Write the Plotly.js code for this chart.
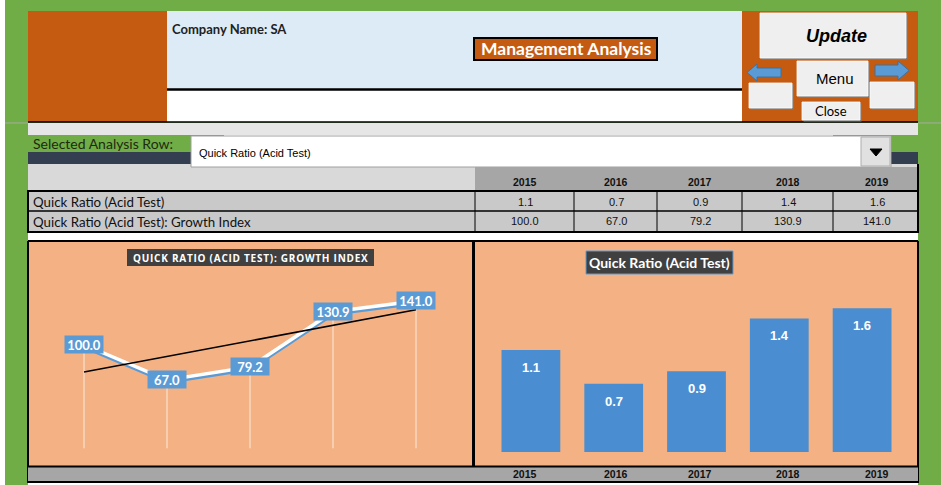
<!DOCTYPE html>
<html>
<head>
<meta charset="utf-8">
<script src="https://cdn.plot.ly/plotly-3.0.1.min.js"></script>
<style>html,body{margin:0;padding:0;background:#fff;}#chart{width:941px;height:485px;}</style>
</head>
<body>
<div id="chart"></div>
<script>
// ---------------- DATA ----------------
const years = ['2015', '2016', '2017', '2018', '2019'];
const quickRatio = [1.10, 0.737, 0.871, 1.440, 1.551];
const growthIndex = [100.0, 67.0, 79.2, 130.9, 141.0];
const rowLabels = ['Quick Ratio (Acid Test)', 'Quick Ratio (Acid Test): Growth Index'];
const companyName = 'SA';
const pageTitle = 'Management Analysis';
const selectorLabel = 'Selected Analysis Row:';
const selectedRow = 'Quick Ratio (Acid Test)';
const lineTitle = 'QUICK RATIO (ACID TEST): GROWTH INDEX';
const barTitle = 'Quick Ratio (Acid Test)';

// ---------------- LAYOUT HELPERS ----------------
const W = 941, H = 485;
const fx = x => x / W;
const fy = y => 1 - y / H;
const colCenters = [525, 616, 700, 788, 877];
const colEdges = [475, 574, 657, 742, 833, 918];

const shapes = [];
const ann = [];
function rect(x0, y0, x1, y1, fill, lc, lw) {
  shapes.push({type: 'rect', xref: 'paper', yref: 'paper', x0: fx(x0), x1: fx(x1), y0: fy(y1), y1: fy(y0),
    fillcolor: fill, line: {color: lc || 'rgba(0,0,0,0)', width: lw || 0}, layer: 'below'});
}
function line(x0, y0, x1, y1, color, w) {
  shapes.push({type: 'line', xref: 'paper', yref: 'paper', x0: fx(x0), x1: fx(x1), y0: fy(y0), y1: fy(y1),
    line: {color: color, width: w}, layer: 'below'});
}
function poly(pts, fill, lc) {
  const d = pts.map((p, i) => (i ? 'L' : 'M') + fx(p[0]) + ',' + fy(p[1])).join(' ') + ' Z';
  shapes.push({type: 'path', xref: 'paper', yref: 'paper', path: d, fillcolor: fill,
    line: {color: lc || fill, width: 1}, layer: 'below'});
}
function txt(x, y, text, size, o) {
  o = o || {};
  ann.push(Object.assign({xref: 'paper', yref: 'paper', x: fx(x), y: fy(y), text: text, showarrow: false,
    xanchor: o.xa || 'center', yanchor: 'middle',
    font: {family: o.family || 'Lato, sans-serif', size: size, color: o.color || '#111', weight: o.weight || 'normal', style: o.style || 'normal'}},
    o.extra || {}));
}
function button(x0, y0, x1, y1) {
  rect(x0 + 1.5, y0 + 1.5, x1 + 1.5, y1 + 1.5, '#7f7f7f');
  rect(x0, y0, x1, y1, '#efefef', '#ffffff', 0.8);
}

// page background
rect(0, 0, W, H, '#ffffff');
rect(5, 0, W, H, '#70ad47');
line(5, 123, W, 123, '#a8a8a8', 1);

// header
rect(28, 11, 167, 122, '#c55a11');
rect(167, 11, 742, 89, '#ddebf7');
rect(167, 90, 742, 122, '#ffffff');
line(167, 89.5, 742, 89.5, '#000', 2.5);
rect(742, 11, 918, 122, '#c55a11');
line(28, 122, 918, 122, '#000', 1.5);
rect(474, 38, 657, 60, '#c55a11', '#000', 2);

// buttons
button(760, 13, 906, 58);
button(797, 61, 868, 96);
button(749, 83, 792, 108);
button(870, 82, 914, 108);
button(802, 102, 860, 120);
poly([[747, 72.5], [757, 64], [757, 68], [781, 68], [781, 77], [757, 77], [757, 81]], '#5b9bd5', '#41719c');
poly([[909, 70.5], [898, 61], [898, 65], [875, 65], [875, 76], [898, 76], [898, 80]], '#5b9bd5', '#41719c');

// selector area
rect(28, 123, 918, 135, '#e7e6e6');
rect(28, 135, 224, 152, '#70ad47');
rect(224, 135, 833, 152, '#ffffff');
rect(833, 135, 918, 152, '#70ad47');
rect(28, 152, 918, 164, '#333f50');
rect(28, 164, 918, 191, '#d9d9d9');
rect(191, 136, 891, 167, '#ffffff', '#a0a0a0', 1);
rect(861, 137, 890, 166, '#e1e1e1', '#adadad', 1);
poly([[870, 149], [882, 149], [876, 156]], '#000000', '#000000');

// table
rect(475, 167, 918, 191, '#a6a6a6');
rect(28, 191, 918, 232, '#c9c9c9');
line(28, 191, 918, 191, '#000', 2);
line(28, 211, 918, 211, '#000', 1.5);
line(28, 232, 918, 232, '#000', 2);
line(28, 190, 28, 233, '#000', 2);
line(918, 164, 918, 233, '#000', 2);
colEdges.slice(0, 5).forEach(x => line(x, 191, x, 232, '#000', 1));

// charts area
rect(28, 233, 918, 485, '#ffffff');
rect(28, 241, 473, 466, '#f4b183');
rect(473, 241, 918, 466, '#f4b183');
line(28, 241, 918, 241, '#000', 2);
line(28, 241, 28, 483, '#000', 2);
line(918, 241, 918, 483, '#000', 2);
line(473.5, 241, 473.5, 466, '#000', 3);
rect(28, 467, 918, 481, '#a6a6a6');
line(28, 466.5, 918, 466.5, '#000', 2);
line(28, 482, 918, 482, '#000', 2);
rect(127, 249, 374, 266, '#404040');
rect(586, 251, 733, 274, '#404040', '#5b9bd5', 1);

// ---------------- TEXT ----------------
const arial = 'Liberation Sans, Arial, sans-serif';
txt(170, 29, 'Company Name: ' + companyName, 13, {xa: 'left', weight: 'bold', color: '#222'});
txt(566, 48.5, pageTitle, 17.5, {weight: 'bold', color: '#ffffff'});
txt(836, 36, 'Update', 18, {family: arial, weight: 'bold', style: 'italic', color: '#000'});
txt(835, 79, 'Menu', 15, {family: arial, color: '#000'});
txt(831, 111, 'Close', 13, {color: '#000'});
txt(31, 143.5, selectorLabel, 14, {xa: 'left', color: '#1e2a10'});
txt(197, 153, selectedRow, 11, {xa: 'left', family: arial, color: '#000'});
rowLabels.forEach((r, i) => txt(31, 202 + i * 20, r, 13.3, {xa: 'left', color: '#111'}));
years.forEach((yr, i) => {
  txt(colCenters[i], 182, yr, 10.5, {family: arial, weight: 'bold', color: '#111'});
  txt(colCenters[i], 201.5, quickRatio[i].toFixed(1), 11, {family: arial, color: '#111'});
  txt(colCenters[i], 221.5, growthIndex[i].toFixed(1), 11, {family: arial, color: '#111'});
  txt(colCenters[i], 474, yr, 10.5, {family: arial, weight: 'bold', color: '#111'});
});
txt(250.5, 257.5, '<span style="letter-spacing:0.75px">' + lineTitle + '</span>', 10, {family: 'Open Sans, sans-serif', weight: 'bold', color: '#ffffff'});
txt(659.5, 262.5, barTitle, 14, {weight: 'bold', color: '#ffffff'});

// data labels on charts (category axes take the category index)
growthIndex.forEach((v, i) => ann.push({xref: 'x', yref: 'y2', x: i, y: v, text: v.toFixed(1), showarrow: false,
  bgcolor: '#5b9bd5', borderpad: 2, width: 34, height: 13, xanchor: 'center', yanchor: 'middle',
  font: {family: 'Lato, sans-serif', size: 13, weight: 'bold', color: '#ffffff'}}));
quickRatio.forEach((v, i) => ann.push({xref: 'x2', yref: 'y3', x: i, y: v, text: v.toFixed(1), showarrow: false,
  xanchor: 'center', yanchor: 'top', yshift: -8,
  font: {family: arial, size: 13, weight: 'bold', color: '#ffffff'}}));

// trend line (least squares on index positions)
const n = growthIndex.length;
const xi = growthIndex.map((_, i) => i);
const mx = xi.reduce((a, b) => a + b, 0) / n;
const my = growthIndex.reduce((a, b) => a + b, 0) / n;
let sxy = 0, sxx = 0;
xi.forEach((x, i) => { sxy += (x - mx) * (growthIndex[i] - my); sxx += (x - mx) * (x - mx); });
const slope = sxy / sxx, icpt = my - slope * mx;
const trend = xi.map(x => icpt + slope * x);

// ---------------- TRACES ----------------
const lineMax = 170, shadowShift = 1.9, barMax = 1.9627;
const traces = [
  // blue shadow of the line, on the base axis (drawn first, underneath)
  {type: 'scatter', mode: 'lines', x: years, y: growthIndex, xaxis: 'x', yaxis: 'y',
    line: {color: '#5b9bd5', width: 4}},
  // drop lines
  {type: 'scatter', mode: 'lines', x: years, y: growthIndex, xaxis: 'x', yaxis: 'y2',
    line: {color: 'rgba(255,255,255,0)', width: 0},
    error_y: {type: 'data', symmetric: false, array: growthIndex.map(() => 0), arrayminus: growthIndex.map(v => v - 3),
      width: 0, thickness: 1, color: 'rgba(255,255,255,0.75)'}},
  {type: 'scatter', mode: 'lines', x: years, y: growthIndex, xaxis: 'x', yaxis: 'y2',
    line: {color: '#ffffff', width: 3.5}},
  {type: 'scatter', mode: 'lines', x: years, y: trend, xaxis: 'x', yaxis: 'y2',
    line: {color: '#000000', width: 1.6}},
  {type: 'bar', x: years, y: quickRatio, xaxis: 'x2', yaxis: 'y3',
    marker: {color: '#4a8ed1', line: {width: 0}}}
];

const hid = {showgrid: false, zeroline: false, showticklabels: false, ticks: '', showline: false, fixedrange: true};
const layout = {
  width: W, height: H, margin: {l: 0, r: 0, t: 0, b: 0},
  paper_bgcolor: '#ffffff', plot_bgcolor: 'rgba(0,0,0,0)', showlegend: false, hovermode: false,
  bargap: 0.29,
  xaxis: Object.assign({}, hid, {type: 'category', domain: [fx(42.5), fx(457.5)], range: [-0.5, 4.5]}),
  yaxis: Object.assign({}, hid, {domain: [fy(451.5), fy(270)], range: [shadowShift, lineMax + shadowShift]}),
  yaxis2: Object.assign({}, hid, {overlaying: 'y', range: [0, lineMax]}),
  xaxis2: Object.assign({}, hid, {type: 'category', domain: [fx(489.5), fx(903.5)], range: [-0.5, 4.5], anchor: 'y3'}),
  yaxis3: Object.assign({}, hid, {domain: [fy(452), fy(270)], range: [0, barMax], anchor: 'x2'}),
  shapes: shapes, annotations: ann
};
Plotly.newPlot('chart', traces, layout, {displayModeBar: false, staticPlot: true});
</script>
</body>
</html>
